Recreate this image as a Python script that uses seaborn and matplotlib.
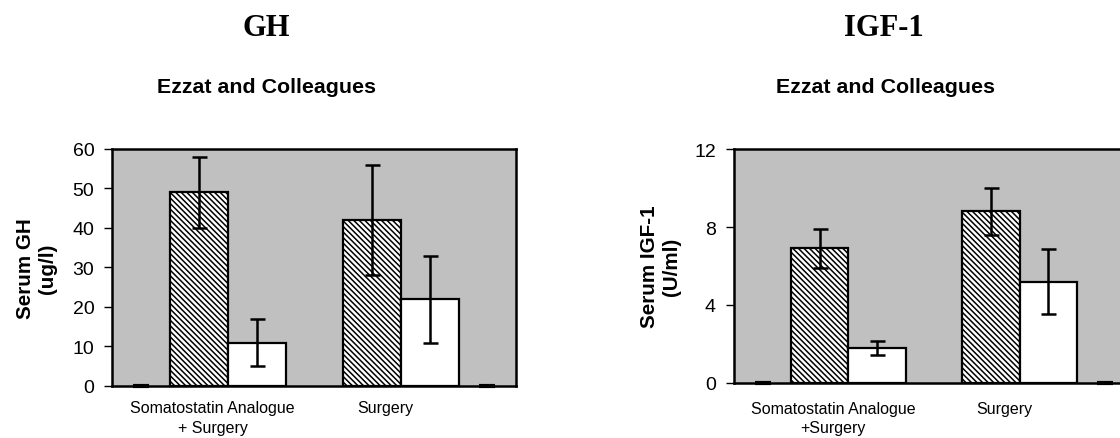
import matplotlib
matplotlib.use("Agg")
import matplotlib.pyplot as plt
from matplotlib.transforms import ScaledTranslation
import pandas as pd
import seaborn as sns

# category slots along the x axis (blank slots as in the original Excel chart)
slots = ["pad_l", "Somatostatin Analogue", "gap", "Surgery", "pad_r"]
groups = ["Somatostatin Analogue", "Surgery"]
phases = ["Before", "After"]
edge_marks = [0, 0]

gh_before = [49, 42]
gh_before_err = [9, 14]
gh_after = [11, 22]
gh_after_err = [6, 11]
gh_ticks = [0, 10, 20, 30, 40, 50, 60]
gh_labels = ["Somatostatin Analogue\n+ Surgery", "Surgery"]

igf_before = [6.9, 8.8]
igf_before_err = [1.0, 1.2]
igf_after = [1.8, 5.2]
igf_after_err = [0.35, 1.65]
igf_ticks = [0, 4, 8, 12]
igf_labels = ["Somatostatin Analogue\n+Surgery", "Surgery"]

sns.set_style("ticks")
plt.rcParams["font.family"] = ["Liberation Sans", "DejaVu Sans"]
plt.rcParams["hatch.linewidth"] = 1.1
plt.rcParams["hatch.color"] = "black"
plt.rcParams["text.color"] = "black"
plt.rcParams["axes.labelcolor"] = "black"
plt.rcParams["xtick.color"] = "black"
plt.rcParams["ytick.color"] = "black"

fig = plt.figure(figsize=(11.2, 4.39), dpi=100)


def draw_panel(ax, before, before_err, after, after_err, ticks, ylabel, labels,
               label_pad, label_space, ylab_x):
    df = pd.DataFrame({
        "group": groups + groups,
        "phase": ["Before"] * len(groups) + ["After"] * len(groups),
        "value": before + after,
    })
    errs = {"Before": dict(zip(groups, before_err)), "After": dict(zip(groups, after_err))}

    sns.barplot(data=df, x="group", y="value", hue="phase", order=slots, hue_order=phases,
                palette=["white", "white"], width=1.34, edgecolor="black", linewidth=1.6,
                errorbar=None, legend=False, ax=ax, zorder=2)

    for phase, cont in zip(phases, ax.containers):
        xs, ys, es = [], [], []
        for bar in cont:
            if phase == "Before":
                bar.set_hatch("\\\\\\\\\\\\")
            cx = bar.get_x() + bar.get_width() / 2
            xs.append(cx)
            ys.append(bar.get_height())
            es.append(errs[phase][slots[int(round(cx))]])
        ax.errorbar(xs, ys, yerr=es, fmt="none", ecolor="black", elinewidth=1.8,
                    capsize=5.4, capthick=1.8, zorder=3)

    ax.plot([slots.index("pad_l"), slots.index("pad_r")], edge_marks, ls="none",
            marker="_", ms=11, mew=3, color="black", zorder=4, clip_on=False)

    ax.set_facecolor("#c0c0c0")
    ax.set_xlim(-0.335, len(slots) - 1 + 0.335)
    ax.set_ylim(ticks[0], ticks[-1])
    ax.set_yticks(ticks)
    ax.set_xticks([slots.index(g) for g in groups])
    ax.set_xticklabels(labels, fontsize=11.5, linespacing=label_space, color="black")
    ax.set_xlabel("")
    ax.set_ylabel(ylabel, fontsize=14.9, fontweight="bold", linespacing=1.2, color="black")
    ax.yaxis.set_label_coords(ylab_x, 0.5)
    ax.tick_params(axis="y", direction="out", length=6, width=1, labelsize=14, pad=7,
                   colors="black")
    ax.tick_params(axis="x", length=0, pad=label_pad, colors="black")
    for lab in ax.get_xticklabels():
        lab.set_transform(lab.get_transform() + ScaledTranslation(-0.15, 0, fig.dpi_scale_trans))
    for sp in ax.spines.values():
        sp.set_visible(True)
        sp.set_color("black")
        sp.set_linewidth(1.8)


ax1 = fig.add_axes([0.1004, 0.1185, 0.3603, 0.540])
draw_panel(ax1, gh_before, gh_before_err, gh_after, gh_after_err, gh_ticks,
           "Serum GH\n(ug/l)", gh_labels, 10, 1.45, -0.137)

ax2 = fig.add_axes([0.6554, 0.1253, 0.357, 0.533])
draw_panel(ax2, igf_before, igf_before_err, igf_after, igf_after_err, igf_ticks,
           "Serum IGF-1\n(U/ml)", igf_labels, 13, 1.3, -0.133)

for x, title in [(0.238, "GH"), (0.789, "IGF-1")]:
    fig.text(x, 0.934, title, ha="center", va="center", fontsize=22, fontweight="bold",
             color="black", family=["Liberation Serif", "DejaVu Serif"])
for x in [0.238, 0.791]:
    fig.text(x, 0.80, "Ezzat and Colleagues", ha="center", va="center", fontsize=15.4,
             fontweight="bold", color="black")

fig.savefig("out.png", dpi=100)
